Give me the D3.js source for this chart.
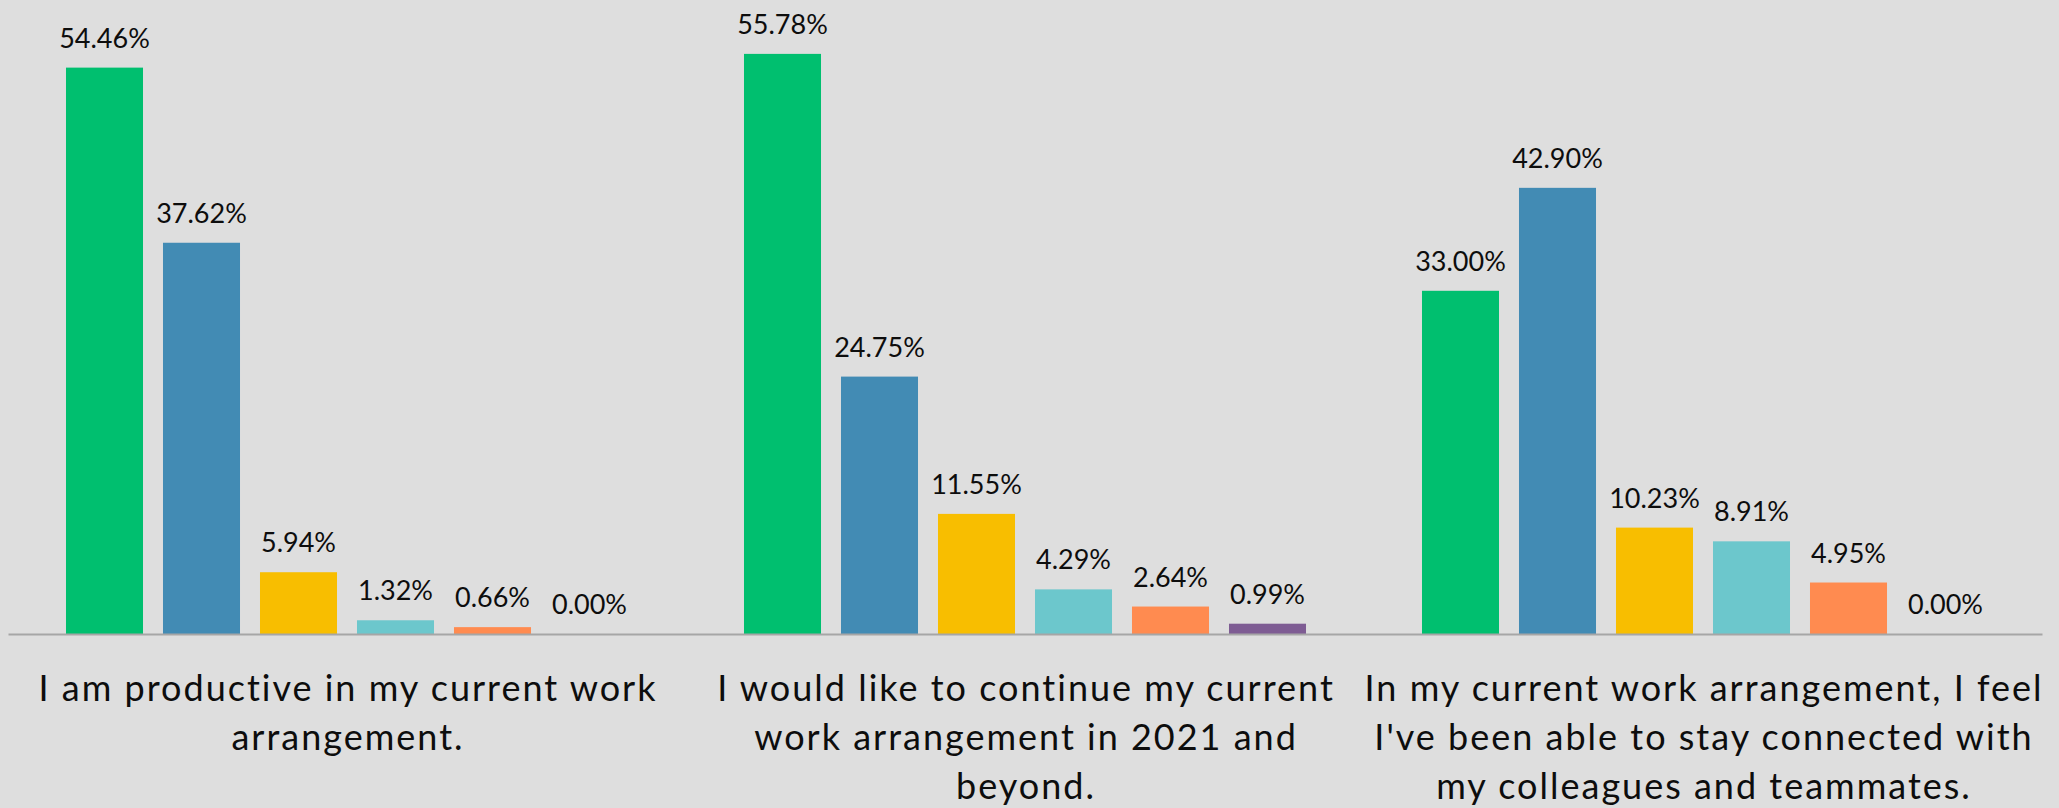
<!DOCTYPE html>
<html>
<head>
<meta charset="utf-8">
<script src="https://cdn.jsdelivr.net/npm/d3@7"></script>
<style>
  html, body { margin: 0; padding: 0; background: #dedede; }
  svg { display: block; }
  text { font-family: "Lato", "Open Sans", sans-serif; fill: #0d0d0d; }
</style>
</head>
<body>
<svg id="chart" width="2059" height="808"></svg>
<script>
// Survey statements (line breaks mark where each label wraps)
const categories = [
  "I am productive in my current work\narrangement.",
  "I would like to continue my current\nwork arrangement in 2021 and\nbeyond.",
  "In my current work arrangement, I feel\nI've been able to stay connected with\nmy colleagues and teammates."
];

// Response options, in bar order within each group
const responses = ["Strongly agree", "Agree", "Neutral", "Disagree", "Strongly disagree", "N/A"];
const responseColors = ["#00bf6f", "#428bb4", "#f8be00", "#6cc7cc", "#ff8b50", "#7e5c93"];

// Share of respondents (%) per statement, one value per response option
const productive  = [54.46, 37.62, 5.94, 1.32, 0.66, 0.00];
const continueArr = [55.78, 24.75, 11.55, 4.29, 2.64, 0.99];
const connected   = [33.00, 42.90, 10.23, 8.91, 4.95, 0.00];

const seriesByCategory = [productive, continueArr, connected];

const data = categories.map((c, i) => ({
  category: c,
  values: responses.map((r, j) => ({ response: r, value: seriesByCategory[i][j] }))
}));

const svg = d3.select("#chart");
const baseY = 634;

const x0 = d3.scaleBand()
  .domain(categories)
  .range([8, 2042])
  .padding(0);

const x1 = d3.scaleBand()
  .domain(responses)
  .range([48, x0.bandwidth() - 48])
  .paddingInner(0.206)
  .paddingOuter(0.103);

const y = d3.scaleLinear()
  .domain([0, 60])
  .range([baseY, 10]);

const color = d3.scaleOrdinal().domain(responses).range(responseColors);

const groups = svg.append("g")
  .selectAll("g")
  .data(data)
  .join("g")
  .attr("transform", d => `translate(${x0(d.category)},0)`);

groups.selectAll("rect")
  .data(d => d.values)
  .join("rect")
  .attr("x", d => x1(d.response))
  .attr("width", x1.bandwidth())
  .attr("y", d => y(d.value))
  .attr("height", d => y(0) - y(d.value))
  .attr("fill", d => color(d.response));

groups.selectAll("text.value")
  .data(d => d.values)
  .join("text")
  .attr("class", "value")
  .attr("x", d => x1(d.response) + x1.bandwidth() / 2)
  .attr("y", d => y(d.value) - 20)
  .attr("text-anchor", "middle")
  .attr("font-size", 27)
  .text(d => d.value.toFixed(2) + "%");

// Category axis along the baseline, without ticks
const xAxis = svg.append("g")
  .attr("transform", `translate(0,${baseY})`)
  .call(d3.axisBottom(x0).tickSize(0).tickFormat(""));
xAxis.select(".domain").attr("stroke", "#a6a6a6").attr("stroke-width", 2);

// Wrapped statement labels under each group
const labels = xAxis.selectAll(".tick")
  .append("text")
  .attr("text-anchor", "middle")
  .attr("font-size", 36)
  .attr("letter-spacing", 2)
  .attr("y", 67);

labels.each(function(d) {
  const lines = d.split("\n");
  d3.select(this).selectAll("tspan")
    .data(lines)
    .join("tspan")
    .attr("x", 1)
    .attr("dy", (l, i) => i === 0 ? 0 : 49)
    .text(l => l);
});
</script>
</body>
</html>
